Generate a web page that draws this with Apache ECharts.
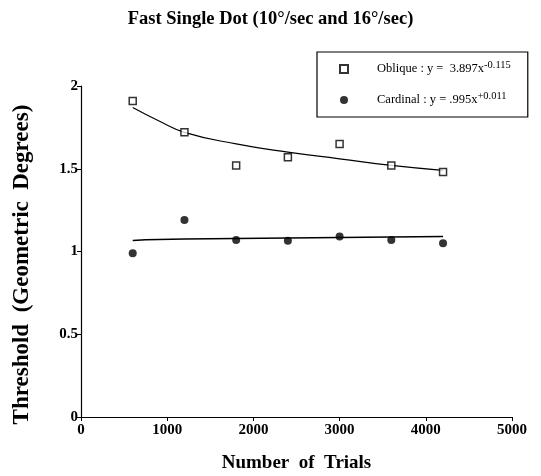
<!DOCTYPE html>
<html>
<head>
<meta charset="utf-8">
<script src="https://cdn.jsdelivr.net/npm/echarts@6/dist/echarts.min.js"></script>
<style>html,body{margin:0;padding:0;background:#fff}#c{width:541px;height:476px}</style>
</head>
<body>
<div id="c"></div>
<script>
var trials = [600, 1200, 1800, 2400, 3000, 3600, 4200];
var oblique = [1.91, 1.72, 1.52, 1.57, 1.65, 1.52, 1.48];
var cardinal = [0.99, 1.19, 1.07, 1.065, 1.09, 1.07, 1.05];
var fitX = [600, 900, 1200, 1800, 2400, 3000, 3600, 4200];
var obliqueFit = [1.87, 1.79, 1.72, 1.65, 1.60, 1.56, 1.52, 1.49];
var cardinalFit = [1.067, 1.072, 1.075, 1.078, 1.081, 1.084, 1.087, 1.09];
var xTicks = [0, 1000, 2000, 3000, 4000, 5000];
var yTicks = [0, 0.5, 1, 1.5, 2];

function pairs(xs, ys) { return xs.map(function (x, i) { return [x, ys[i]]; }); }
var serif = '"Liberation Serif", "DejaVu Serif", serif';

var chart = echarts.init(document.getElementById('c'));
chart.setOption({
  animation: false,
  title: {
    text: 'Fast Single Dot (10\u00B0/sec and 16\u00B0/sec)',
    left: 'center', top: 5,
    textStyle: { fontFamily: serif, fontWeight: 'bold', fontSize: 18.5, color: '#000' }
  },
  grid: { left: 81, right: 29, top: 86, bottom: 59, containLabel: false, outerBoundsMode: 'none' },
  xAxis: {
    type: 'value', min: 0, max: 5000, interval: 1000,
    name: 'Number  of  Trials', nameLocation: 'middle', nameGap: 37,
    nameTextStyle: { fontFamily: serif, fontWeight: 'bold', fontSize: 19, color: '#000' },
    axisLine: { lineStyle: { color: '#000', width: 1.2 } },
    axisTick: { length: 4, lineStyle: { color: '#000' } },
    axisLabel: {
      fontFamily: serif, fontWeight: 'bold', fontSize: 15, color: '#000', margin: 6,
      formatter: function (v) { return xTicks.indexOf(v) >= 0 ? String(v) : ''; }
    },
    splitLine: { show: false }
  },
  yAxis: {
    type: 'value', min: 0, max: 2, interval: 0.5,
    name: 'Threshold  (Geometric  Degrees)', nameLocation: 'middle', nameGap: 47,
    nameTextStyle: { fontFamily: serif, fontWeight: 'bold', fontSize: 23, color: '#000', padding: [0, 26, 0, 0] },
    axisLine: { show: true, lineStyle: { color: '#000', width: 1.2 } },
    axisTick: { show: true, length: 4, lineStyle: { color: '#000' } },
    axisLabel: {
      fontFamily: serif, fontWeight: 'bold', fontSize: 15, color: '#000', margin: 3,
      formatter: function (v) { return yTicks.indexOf(v) >= 0 ? String(v) : ''; }
    },
    splitLine: { show: false }
  },
  legend: {
    orient: 'vertical', left: 317, top: 52,
    padding: [8, 17, 8, 22],
    itemGap: 13,
    itemWidth: 8, itemHeight: 8,
    borderColor: '#000', borderWidth: 1.2,
    data: [
      { name: 'Oblique', icon: 'rect' },
      { name: 'Cardinal', icon: 'circle' }
    ],
    formatter: function (n) {
      if (n === 'Oblique') return '{a|Oblique : y =  3.897x}{s|-0.115}';
      return '{a|Cardinal : y = .995x}{s|+0.011}';
    },
    textStyle: {
      fontFamily: serif, fontSize: 12, color: '#000',
      rich: {
        a: { fontFamily: serif, fontSize: 12.5, color: '#000', padding: [0, 0, 0, 24], lineHeight: 16 },
        s: { fontFamily: serif, fontSize: 10.5, color: '#000', padding: [0, 0, 7, 0], lineHeight: 16 }
      }
    }
  },
  series: [
    {
      name: 'Oblique', type: 'scatter', data: pairs(trials, oblique),
      symbol: 'rect', symbolSize: 7,
      itemStyle: { color: '#fff', borderColor: '#000', borderWidth: 1.5 }, z: 5
    },
    {
      name: 'Cardinal', type: 'scatter', data: pairs(trials, cardinal),
      symbol: 'circle', symbolSize: 8,
      itemStyle: { color: '#000' }, z: 5
    },
    {
      name: 'ObliqueFit', type: 'line', data: pairs(fitX, obliqueFit),
      smooth: true, showSymbol: false, symbol: 'none',
      lineStyle: { color: '#000', width: 1.2 }, z: 3
    },
    {
      name: 'CardinalFit', type: 'line', data: pairs(fitX, cardinalFit),
      smooth: true, showSymbol: false, symbol: 'none',
      lineStyle: { color: '#000', width: 1.5 }, z: 3
    }
  ]
});
</script>
</body>
</html>
